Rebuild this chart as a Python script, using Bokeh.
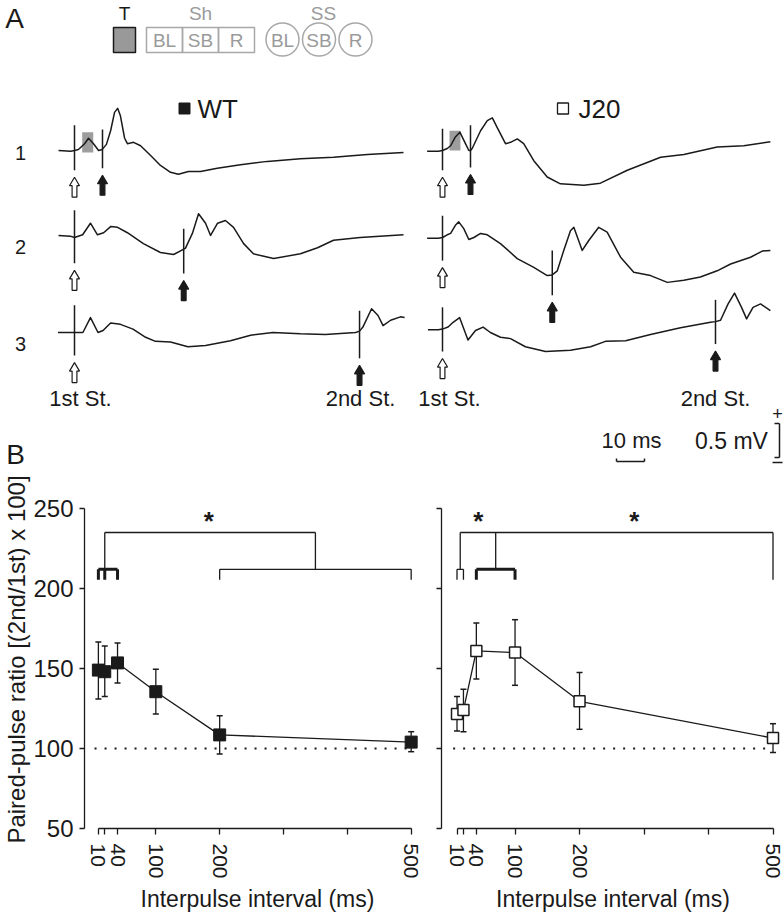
import math
import numpy as np
from bokeh.plotting import figure
from bokeh.models import Range1d, FixedTicker
from bokeh.layouts import column, row
from bokeh.embed import file_html
from bokeh.resources import INLINE
from bokeh.core.properties import value

FONT = "Liberation Sans"
INK = "#1a1a1a"
GRAY = "#9a9a9a"

# ---------------- Panel A: field potential traces (time in ms, amplitude in mV) ----------------
# WT, interval 10 ms
wt1_t = [-5.7, -1.4, 0, 1.4, 3.6, 5.0, 6.8, 8.6, 9.6, 10, 11.4, 12.9, 14.3, 15.4, 16.4, 17.9, 18.9,
         21.1, 23.6, 27.1, 30.7, 34.3, 37.1, 40.7, 45, 51, 59.3, 68.9, 80.7, 92.5, 104.6, 117.5]
wt1_v = [0, -0.01, 0, 0.015, 0.10, 0.18, 0.10, 0.0, 0.01, 0.02, 0.09, 0.29, 0.56, 0.62, 0.51, 0.18, 0.10,
         0.12, 0.07, -0.07, -0.22, -0.32, -0.35, -0.31, -0.31, -0.26, -0.21, -0.16, -0.12, -0.10, -0.06, -0.03]
wt1_stim_t = [0, 10]
wt1_stim_top = [0.37, 0.31]
wt1_stim_bot = [-0.29, -0.26]

# WT, interval 40 ms
wt2_t = [-5.7, -1.5, 0, 2.9, 5.7, 8.2, 10.4, 12.9, 15.4, 18.9, 24.6, 30.7, 35.4, 38.2, 39, 39.6, 42.1,
         44.3, 46.8, 48.6, 51.1, 53.9, 56.8, 60.4, 63.9, 71.1, 80.7, 86.8, 92.5, 102, 117.5]
wt2_v = [0.03, 0.02, 0.0, 0.04, 0.21, 0.04, 0.07, 0.16, 0.15, 0.07, -0.09, -0.22, -0.25, -0.19, -0.17, -0.16, 0.06,
         0.35, 0.21, 0.03, 0.21, 0.25, 0.15, -0.09, -0.24, -0.31, -0.24, -0.15, -0.04, 0.0, 0.04]
wt2_stim_t = [0, 39]
wt2_stim_top = [0.40, 0.13]
wt2_stim_bot = [-0.38, -0.53]

# WT, interval 100 ms
wt3_t = [-5.9, -1.5, 0, 3.0, 5.7, 8.4, 10.2, 12.9, 16.4, 20.9, 25.4, 28.9, 34.3, 40.5, 46.8, 55.7, 62.9,
         70.9, 80.7, 89.6, 100.4, 101.8, 103, 106.1, 108.4, 110.2, 112.9, 116.4, 117.9]
wt3_v = [0.0, 0.0, 0.0, 0.0, 0.22, 0.0, 0.03, 0.14, 0.12, 0.05, -0.07, -0.13, -0.14, -0.21, -0.19, -0.12, -0.04,
         0.0, -0.02, -0.03, 0.0, 0.02, 0.08, 0.35, 0.25, 0.10, 0.18, 0.23, 0.22]
wt3_stim_t = [0, 101.8]
wt3_stim_top = [0.40, 0.32]
wt3_stim_bot = [-0.34, -0.38]

# J20, interval 10 ms
j1_t = [-5.5, -1.5, 0, 1.7, 2.9, 4.6, 6.2, 8.2, 9.4, 10, 10.6, 13.6, 16, 17.8, 19.5, 22.5, 24.3, 26.7, 29,
        32.6, 37.4, 42.1, 50.5, 56.4, 66, 77.9, 86.2, 98.1, 107.6, 117.1]
j1_v = [-0.01, -0.01, 0, 0.03, 0.07, 0.20, 0.27, 0.10, 0.0, 0.0, 0.03, 0.29, 0.44, 0.48, 0.34, 0.10, 0.12, 0.17, 0.10,
        -0.15, -0.39, -0.49, -0.51, -0.48, -0.29, -0.10, -0.06, 0.05, 0.07, 0.13]
j1_stim_t = [0, 10]
j1_stim_top = [0.32, 0.37]
j1_stim_bot = [-0.29, -0.25]

# J20, interval 40 ms
j2_t = [-5.5, -1.5, 0, 1.7, 2.9, 4.6, 5.8, 7.6, 9.4, 11.2, 13.6, 16, 20.7, 26.7, 32.6, 37.4, 39.2, 41, 43.3,
        45.7, 46.9, 49.9, 52.3, 55.8, 58.8, 63.6, 68.3, 74.3, 80.3, 86.2, 92.1, 98.1, 102.9, 110, 114.2, 117.1]
j2_v = [-0.01, -0.01, 0, 0.04, 0.06, 0.18, 0.23, 0.13, -0.03, 0.0, 0.06, 0.04, -0.09, -0.31, -0.44, -0.56, -0.55, -0.49, -0.19,
        0.10, 0.15, -0.19, -0.04, 0.15, 0.08, -0.29, -0.51, -0.56, -0.66, -0.63, -0.58, -0.49, -0.39, -0.29, -0.20, -0.19]
j2_stim_t = [0, 39.2]
j2_stim_top = [0.32, -0.19]
j2_stim_bot = [-0.34, -0.85]

# J20, interval 100 ms
j3_t = [-5.2, -1.5, 0, 2.0, 3.8, 6.1, 9.1, 11.8, 14.5, 17.1, 20.7, 24.3, 29.6, 36.8, 45.7, 52.9, 58.2, 65.4,
        74.3, 85, 95.7, 97.5, 99.3, 102, 104.3, 106.8, 108.6, 110.9, 113.6, 117.1]
j3_v = [0.04, 0.04, 0.05, 0.08, 0.15, 0.22, -0.11, 0.03, 0.08, 0.0, -0.07, -0.09, -0.21, -0.28, -0.26, -0.21, -0.13, -0.12,
        -0.03, 0.07, 0.15, 0.16, 0.18, 0.42, 0.58, 0.37, 0.20, 0.37, 0.42, 0.32]
j3_stim_t = [0, 97.5]
j3_stim_top = [0.37, 0.48]
j3_stim_bot = [-0.28, -0.17]

# analysis window (grey box) on trace 1, ms / mV
wt_win = (2.75, 6.7, -0.03, 0.27)
j20_win = (2.5, 6.4, 0.0, 0.29)

row_labels = ["1", "2", "3"]
scale_ms = 10
scale_mv = 0.5

# ---------------- Panel B: paired-pulse ratio ----------------
intervals = [10, 20, 40, 100, 200, 500]
wt_ppr = [149, 148, 153.5, 135.5, 108.5, 104]
wt_lo = [131, 132.5, 141, 121.5, 96.5, 98]
wt_hi = [166.5, 164, 166, 149.5, 120.5, 110.5]
j20_ppr = [121.5, 124, 161, 160, 129.5, 106.5]
j20_lo = [111, 110.5, 143.5, 139.5, 112, 97.5]
j20_hi = [132.5, 137, 178.5, 180.5, 147.5, 115.5]
x_label_ticks = [10, 40, 100, 200, 500]
x_plain_ticks = [20, 300, 400]
y_ticks = [50, 100, 150, 200, 250]
baseline_ppr = 100

# significance brackets: (x members, thick) groups; connectors; star x positions
wt_groups = [([10, 20, 40], True), ([200, 500], False)]
wt_connect = [20, 350]
wt_stars = [183]
j20_groups = [([10, 20], False), ([40, 100], True), ([500], False)]
j20_connect = [15, 70, 500]
j20_stars = [43, 285]
sig_top, sig_mid, sig_foot, star_y = 235, 212, 205.5, 242

# ================= Panel A figure =================
PX_PER_MS = 2.8
PX_PER_MV = 68.0
X0, Y0 = 74, 150
A_H = 470


def tx(px):
    return (px - X0) / PX_PER_MS


def vy(py):
    return (Y0 - py) / PX_PER_MV


pa = figure(width=784, height=A_H, x_range=Range1d(tx(0), tx(784)), y_range=Range1d(vy(A_H), vy(0)),
            x_axis_type=None, y_axis_type=None, output_backend="svg", toolbar_location=None,
            min_border=0, outline_line_color=None)
pa.grid.visible = False
pa.background_fill_color = "white"
pa.border_fill_color = "white"

row_off = [vy(150), vy(237), vy(332)]
j20_off = tx(442)

# grey analysis windows
for win, toff in ((wt_win, 0.0), (j20_win, j20_off)):
    pa.quad(left=[win[0] + toff], right=[win[1] + toff], bottom=[win[2]], top=[win[3]],
            fill_color="#9d9d9d", line_color=None)

traces = [
    (wt1_t, wt1_v, wt1_stim_t, wt1_stim_top, wt1_stim_bot, 0, 0.0),
    (wt2_t, wt2_v, wt2_stim_t, wt2_stim_top, wt2_stim_bot, 1, 0.0),
    (wt3_t, wt3_v, wt3_stim_t, wt3_stim_top, wt3_stim_bot, 2, 0.0),
    (j1_t, j1_v, j1_stim_t, j1_stim_top, j1_stim_bot, 0, j20_off),
    (j2_t, j2_v, j2_stim_t, j2_stim_top, j2_stim_bot, 1, j20_off),
    (j3_t, j3_v, j3_stim_t, j3_stim_top, j3_stim_bot, 2, j20_off),
]


def arrow_poly(t, tip):
    hh = 5.0 / PX_PER_MS
    hs = 2.4 / PX_PER_MS
    head = 8.5 / PX_PER_MV
    tot = 20.0 / PX_PER_MV
    xs = [t, t + hh, t + hs, t + hs, t - hs, t - hs, t - hh]
    ys = [tip, tip - head, tip - head, tip - tot, tip - tot, tip - head, tip - head]
    return xs, ys


open_xs, open_ys, fill_xs, fill_ys = [], [], [], []
for t, v, st, stop, sbot, r, toff in traces:
    ro = row_off[r]
    pa.line(np.array(t) + toff, np.array(v) + ro, line_color=INK, line_width=1.5, line_join="round")
    sx = np.array(st) + toff
    pa.segment(x0=sx, y0=np.array(stop) + ro, x1=sx, y1=np.array(sbot) + ro, line_color=INK, line_width=1.5)
    for i, (s, b) in enumerate(zip(sx, sbot)):
        xs, ys = arrow_poly(s, b + ro - 7.0 / PX_PER_MV)
        if i == 0:
            open_xs.append(xs); open_ys.append(ys)
        else:
            fill_xs.append(xs); fill_ys.append(ys)

pa.patches(open_xs, open_ys, fill_color="white", line_color=INK, line_width=1.2)
pa.patches(fill_xs, fill_ys, fill_color=INK, line_color=INK, line_width=1.2)


def txt(xp, yp, s, size, color=INK, align="center", style="normal"):
    pa.text(x=[tx(xp)], y=[vy(yp)], text=[s], text_font=value(FONT), text_font_size=size,
            text_color=color, text_align=align, text_baseline="middle", text_font_style=style)


# panel letters
txt(14, 18, "A", "28px")
txt(15, 454, "B", "28px")

# condition key at the top
pa.quad(left=[tx(113)], right=[tx(135)], top=[vy(27)], bottom=[vy(52)], fill_color="#999999",
        line_color=INK, line_width=1.5)
pa.quad(left=[tx(146), tx(182), tx(218)], right=[tx(182), tx(218), tx(254)], top=[vy(27)] * 3,
        bottom=[vy(52)] * 3, fill_color=None, line_color="#a8a8a8", line_width=1.5)
pa.scatter(x=[tx(282), tx(318.5), tx(355)], y=[vy(39)] * 3, marker="circle", size=33,
           fill_color=None, line_color="#a8a8a8", line_width=1.5)
txt(124, 13, "T", "19px")
txt(200, 13, "Sh", "19px", GRAY)
txt(323, 13, "SS", "19px", GRAY)
for xp, s in ((164, "BL"), (200, "SB"), (236, "R"), (282, "BL"), (318.5, "SB"), (355, "R")):
    txt(xp, 40, s, "19px", GRAY)

# group labels
pa.scatter(x=[tx(184)], y=[vy(108)], marker="square", size=11, fill_color=INK, line_color=INK)
txt(197, 108, "WT", "26px", align="left")
pa.scatter(x=[tx(562.5)], y=[vy(108)], marker="square", size=11, fill_color="white", line_color=INK,
           line_width=1.3)
txt(578, 108, "J20", "26px", align="left")

# row numbers
for lab, yp in zip(row_labels, (152, 246, 343)):
    txt(20, yp, lab, "20px")

# stimulus labels
for xp, s in ((80, "1st St."), (360, "2nd St."), (449, "1st St."), (715, "2nd St.")):
    txt(xp, 398, s, "22px")

# scale bars
sb_x0 = tx(616)
sb_y = vy(461)
tick = 3.0 / PX_PER_MV
pa.segment(x0=[sb_x0, sb_x0, sb_x0 + scale_ms], y0=[sb_y, sb_y, sb_y],
           x1=[sb_x0 + scale_ms, sb_x0, sb_x0 + scale_ms], y1=[sb_y, sb_y + tick, sb_y + tick],
           line_color=INK, line_width=1.5)
txt(631, 440, "10 ms", "22px")
br_x = tx(779)
br_top = vy(423)
br_tick = 5.0 / PX_PER_MS
pa.segment(x0=[br_x, br_x - br_tick, br_x - br_tick], y0=[br_top, br_top, br_top - scale_mv],
           x1=[br_x, br_x, br_x], y1=[br_top - scale_mv, br_top, br_top - scale_mv],
           line_color=INK, line_width=1.5)
txt(731, 440, "0.5 mV", "23px")
txt(777, 413, "+", "18px")
pa.segment(x0=[tx(772)], y0=[vy(462)], x1=[tx(782)], y1=[vy(462)], line_color=INK, line_width=1.5)


# ================= Panel B figures =================
B_H = 922 - A_H


def style_axis(ax):
    ax.axis_line_color = INK
    ax.axis_line_width = 1.3
    ax.major_tick_line_color = INK
    ax.major_tick_line_width = 1.3
    ax.minor_tick_line_color = INK
    ax.minor_tick_line_width = 1.3
    ax.major_tick_in = 0
    ax.minor_tick_in = 0


def panel_b(width, min_left, x_start, x_end, ys, lo, hi, filled, groups, connect, stars, show_y):
    p = figure(width=width, height=B_H, x_range=Range1d(x_start, x_end), y_range=Range1d(50, 261.25),
               output_backend="svg", toolbar_location=None, min_border_left=min_left, min_border_right=0,
               min_border_top=20, min_border_bottom=94, outline_line_color=None)
    p.grid.visible = False
    p.background_fill_color = "white"
    p.border_fill_color = "white"

    xa = p.xaxis[0]
    xa.ticker = FixedTicker(ticks=x_label_ticks, minor_ticks=x_plain_ticks)
    xa.bounds = (10, 500)
    style_axis(xa)
    xa.major_tick_out = 6
    xa.minor_tick_out = 6
    xa.major_label_orientation = -math.pi / 2
    xa.major_label_text_font = FONT
    xa.major_label_text_font_size = "21px"
    xa.major_label_text_color = INK
    xa.major_label_standoff = 9
    xa.axis_label = "Interpulse interval (ms)"
    xa.axis_label_text_font = FONT
    xa.axis_label_text_font_size = "23px"
    xa.axis_label_text_font_style = "normal"
    xa.axis_label_text_color = INK
    xa.axis_label_standoff = 4

    ya = p.yaxis[0]
    ya.bounds = (50, 250)
    style_axis(ya)
    if show_y:
        ya.ticker = FixedTicker(ticks=y_ticks, minor_ticks=[])
        ya.major_tick_out = 5
        ya.minor_tick_out = 0
        ya.major_label_text_font = FONT
        ya.major_label_text_font_size = "24px"
        ya.major_label_text_color = INK
        ya.major_label_standoff = 6
        ya.axis_label = "Paired-pulse ratio [(2nd/1st) x 100]"
        ya.axis_label_text_font = FONT
        ya.axis_label_text_font_size = "24px"
        ya.axis_label_text_font_style = "normal"
        ya.axis_label_text_color = INK
        ya.axis_label_standoff = 0
    else:
        ya.ticker = FixedTicker(ticks=[], minor_ticks=y_ticks)
        ya.major_tick_out = 0
        ya.minor_tick_out = 5

    # reference line at 100 %
    p.line([intervals[0] - 6, intervals[-1]], [baseline_ppr, baseline_ppr], line_color=INK,
           line_width=2, line_dash="2 8")

    # significance brackets
    for members, thick in groups:
        lw = 3 if thick else 1.3
        if len(members) > 1:
            p.segment(x0=[members[0]], y0=[sig_mid], x1=[members[-1]], y1=[sig_mid], line_color=INK, line_width=lw)
            p.segment(x0=members, y0=[sig_mid] * len(members), x1=members, y1=[sig_foot] * len(members),
                      line_color=INK, line_width=lw)
    p.segment(x0=[connect[0]], y0=[sig_top], x1=[connect[-1]], y1=[sig_top], line_color=INK, line_width=1.3)
    ends = []
    for c in connect:
        single = any(len(m) == 1 and m[0] == c for m, _ in groups)
        ends.append(sig_foot if single else sig_mid)
    p.segment(x0=connect, y0=[sig_top] * len(connect), x1=connect, y1=ends, line_color=INK, line_width=1.3)
    p.text(x=stars, y=[star_y] * len(stars), text=["*"] * len(stars), text_font=value(FONT),
           text_font_size="26px", text_font_style="bold", text_align="center", text_baseline="middle",
           text_color=INK)

    # error bars
    p.segment(x0=intervals, y0=lo, x1=intervals, y1=hi, line_color=INK, line_width=1.3)
    p.scatter(x=intervals + intervals, y=list(lo) + list(hi), marker="dash", size=6, line_color=INK,
              line_width=1.5)
    # mean line + markers
    p.line(intervals, ys, line_color=INK, line_width=1.3)
    if filled:
        p.scatter(intervals, ys, marker="square", size=12, fill_color=INK, line_color=INK)
    else:
        p.scatter(intervals, ys, marker="square", size=11, fill_color="white", line_color=INK, line_width=1.5)
    return p


sc_l = (410.5 - 95.0) / 490.0
x0_l = 95.0 - 10 * sc_l
pb1 = panel_b(430, 81, (81 - x0_l) / sc_l, (430 - x0_l) / sc_l, wt_ppr, wt_lo, wt_hi, True,
              wt_groups, wt_connect, wt_stars, True)
sc_r = (772.5 - 456.5) / 490.0
x0_r = 456.5 - 10 * sc_r
pb2 = panel_b(354, 11, (441 - x0_r) / sc_r, (784 - x0_r) / sc_r, j20_ppr, j20_lo, j20_hi, False,
              j20_groups, j20_connect, j20_stars, False)

layout = column(pa, row(pb1, pb2, spacing=0), spacing=0)
open("out.html", "w").write(file_html(layout, INLINE))
